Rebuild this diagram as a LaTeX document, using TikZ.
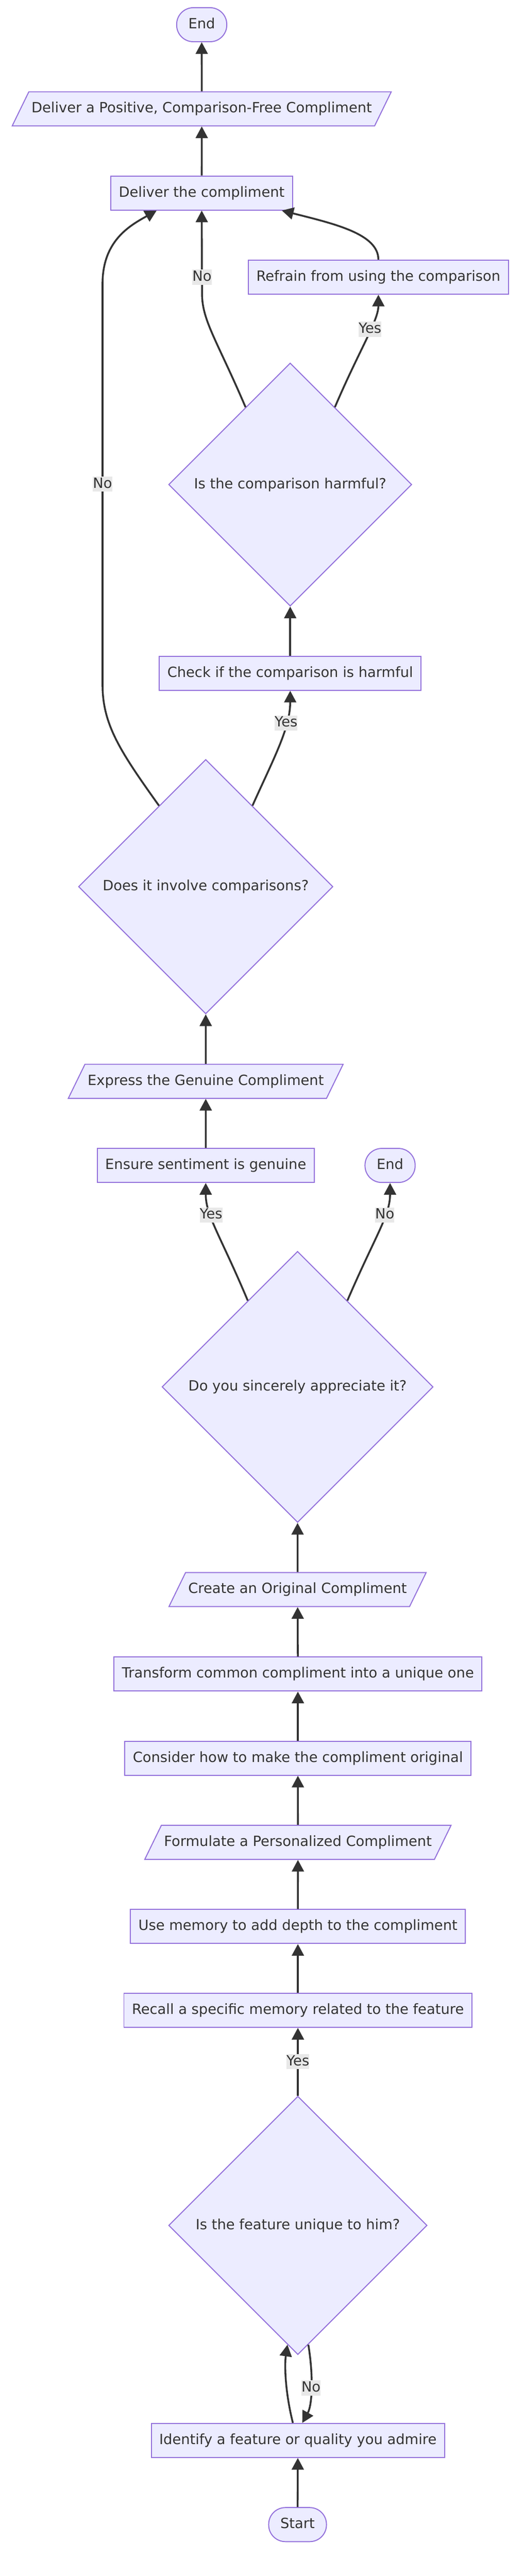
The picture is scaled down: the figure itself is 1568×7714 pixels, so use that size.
\documentclass[tikz,border=0pt]{standalone}
\usepackage{fontspec}
\setmainfont{DejaVu Sans}
\usetikzlibrary{shapes.geometric, arrows.meta}
\definecolor{boxfill}{HTML}{ECECFF}
\definecolor{boxborder}{HTML}{9370DB}
\definecolor{edgegray}{HTML}{333333}
\definecolor{labelgray}{HTML}{E8E8E8}
\newcommand{\flowfont}{\fontsize{24}{29}\selectfont}

\begin{document}
\begin{tikzpicture}[
    x=0.02cm, y=-0.02cm,
    base/.style={fill=boxfill, draw=boxborder, line width=0.06cm, text=edgegray, font=\flowfont, text height=0.68cm, text depth=0.21cm},
    process/.style={base, rectangle, inner xsep=0.48cm, inner ysep=0.575cm},
    io/.style={base, trapezium, trapezium left angle=64, trapezium right angle=116, inner xsep=0.16cm, inner ysep=0.575cm},
    terminal/.style={base, rectangle, rounded corners=1cm, inner xsep=0.7cm, inner ysep=0.575cm},
    decision/.style={base, diamond, aspect=1, inner sep=0pt},
    lbl/.style={fill=labelgray, inner sep=0pt, text=edgegray, font=\flowfont, text height=0.68cm, text depth=0.22cm},
    flow/.style={-{Triangle[length=0.7cm, width=0.72cm]}, line width=0.11cm, draw=edgegray}
]
\useasboundingbox (0,0) rectangle (1568,7714);

% Bottom: start and first decision
\node[terminal] (start) at (891,7560) {Start};
\node[process] (identify) at (892,7308) {Identify a feature or quality you admire};
\node[decision, minimum size=15.48cm] (unique) at (892,6664) {Is the feature unique to him?};

% Personalised compliment chain
\node[process] (recall) at (892,6020) {Recall a specific memory related to the feature};
\node[process] (usememory) at (892,5769) {Use memory to add depth to the compliment};
\node[io] (formulate) at (892,5517) {Formulate a Personalized Compliment};
\node[process] (consider) at (892,5265) {Consider how to make the compliment original};
\node[process] (transform) at (892,5013) {Transform common compliment into a unique one};
\node[io] (create) at (891,4760) {Create an Original Compliment};

% Sincerity check
\node[decision, minimum size=16.24cm] (sincere) at (891,4153) {Do you sincerely appreciate it?};
\node[process] (ensure) at (616,3490) {Ensure sentiment is genuine};
\node[terminal] (endno) at (1168,3490) {End};
\node[io] (express) at (616,3238) {Express the Genuine Compliment};

% Comparison checks
\node[decision, minimum size=15.24cm] (comparisons) at (616,2655) {Does it involve comparisons?};
\node[process] (checkharm) at (869,2016) {Check if the comparison is harmful};
\node[decision, minimum size=14.56cm] (harmful) at (869,1451) {Is the comparison harmful?};
\node[process] (refrain) at (1133,830) {Refrain from using the comparison};

% Top: delivery
\node[process] (deliver) at (604,578) {Deliver the compliment};
\node[io] (positive) at (604,326) {Deliver a Positive, Comparison-Free Compliment};
\node[terminal] (endtop) at (604,74) {End};

% Connections
\draw[flow] (start) -- (identify);
\draw[flow] ([xshift=-0.3cm]identify.north) .. controls (853,7160) and (852,7080) .. (unique.265);
\draw[flow] (unique.275) .. controls (938,7110) and (936,7200) .. node[lbl]{No} ([xshift=0.26cm]identify.north);
\draw[flow] (unique) -- node[lbl]{Yes} (recall);
\draw[flow] (recall) -- (usememory);
\draw[flow] (usememory) -- (formulate);
\draw[flow] (formulate) -- (consider);
\draw[flow] (consider) -- (transform);
\draw[flow] (transform) -- (create);
\draw[flow] (create) -- (sincere);
\draw[flow] (sincere.120) .. controls (660,3700) and (616,3640) .. node[lbl, pos=0.65]{Yes} (ensure.south);
\draw[flow] (sincere.60) .. controls (1124,3700) and (1168,3640) .. node[lbl, pos=0.65]{No} (endno.south);
\draw[flow] (ensure) -- (express);
\draw[flow] (express) -- (comparisons);
\draw[flow] (comparisons.60) .. controls (820,2270) and (869,2180) .. node[lbl, pos=0.7]{Yes} (checkharm.south);
\draw[flow] (comparisons.120) .. controls (360,2250) and (307,2170) .. (307,2050)
    -- node[lbl]{No} (307,850) .. controls (307,720) and (390,675) .. ([xshift=-2.7cm]deliver.south);
\draw[flow] (checkharm) -- (harmful);
\draw[flow] (harmful.120) .. controls (650,1020) and (605,960) .. (605,880) -- node[lbl, pos=0.2]{No} (deliver.south);
\draw[flow] (harmful.60) .. controls (1075,1050) and (1133,960) .. node[lbl, pos=0.6]{Yes} (refrain.south);
\draw[flow] (refrain.north) .. controls (1133,700) and (1000,670) .. ([xshift=4.8cm]deliver.south);
\draw[flow] (deliver) -- (positive);
\draw[flow] (positive) -- (endtop);

\end{tikzpicture}
\end{document}
